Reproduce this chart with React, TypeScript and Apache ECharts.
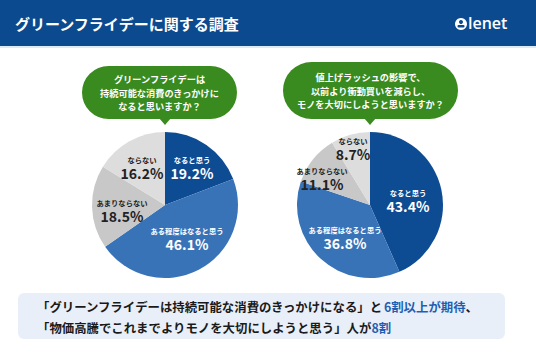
import React, { useEffect, useRef } from "react";
import * as echarts from "echarts";

const categories = ["なると思う", "ある程度はなると思う", "あまりならない", "ならない"];
const greenFridayValues = [19.2, 46.1, 18.5, 16.2];
const priceRiseValues = [43.4, 36.8, 11.1, 8.7];

const titleText = "グリーンフライデーに関する調査";
const question1 = "グリーンフライデーは\n持続可能な消費のきっかけに\nなると思いますか？";
const question2 = "値上げラッシュの影響で、\n以前より衝動買いを減らし、\nモノを大切にしようと思いますか？";

const FONT = "'Noto Sans CJK JP', 'Noto Sans', sans-serif";
const sliceColors = ["#0d4b93", "#3873b8", "#c8c8c8", "#dddddd"];
const labelColors = ["#ffffff", "#ffffff", "#222222", "#222222"];
const pieCenters = [165, 370];
const pieCY = 205;
const pieR = 73;
// label placement offsets from each pie's centre (style, not data)
const labelOffsets = [
  [[27, -38], [22, 33], [-43, 5], [-23, -38]],
  [[38, -5], [-25, 32], [-48, -27], [-17, -57]],
];

function makePie(values: number[], idx: number) {
  return {
    type: "pie",
    center: [pieCenters[idx], pieCY],
    radius: [0, pieR],
    startAngle: 90,
    clockwise: true,
    silent: true,
    avoidLabelOverlap: false,
    data: values.map((v, i) => ({
      name: categories[i],
      value: v,
      itemStyle: { color: sliceColors[i] },
      label: {
        rich: {
          n: { fontSize: 7.3, fontWeight: "bold", color: labelColors[i], fontFamily: FONT, lineHeight: 11, align: "center" },
          v: { fontSize: 14, fontWeight: "bold", color: labelColors[i], fontFamily: FONT, lineHeight: 15, align: "center" },
        },
      },
    })),
    label: {
      show: true,
      position: "inside",
      formatter: (p: any) => `{n|${p.name}}\n{v|${Number(p.value).toFixed(1)}%}`,
    },
    labelLine: { show: false },
    labelLayout: (params: any) => {
      const off = labelOffsets[idx][params.dataIndex];
      return {
        x: pieCenters[idx] + off[0],
        y: pieCY + off[1],
        align: "center",
        verticalAlign: "middle",
      };
    },
  };
}

function bubble(x: number, y: number, w: number, h: number, tipX: number, text: string) {
  return [
    {
      type: "rect",
      shape: { x, y, width: w, height: h, r: h / 2 },
      style: { fill: "#3a8b1f" },
    },
    {
      type: "polygon",
      shape: { points: [[tipX - 6, y + h - 1], [tipX + 6, y + h - 1], [tipX, y + h + 6]] },
      style: { fill: "#3a8b1f" },
    },
    {
      type: "text",
      x: x + w / 2,
      y: y + h / 2,
      style: {
        text,
        fill: "#ffffff",
        fontFamily: FONT,
        fontSize: 9.2,
        fontWeight: "bold",
        lineHeight: 13.5,
        textAlign: "center",
        textVerticalAlign: "middle",
      },
    },
  ];
}

export default function App() {
  const ref = useRef<HTMLDivElement>(null);
  useEffect(() => {
    document.body.style.margin = "0";
    if (!ref.current) return;
    const chart = echarts.init(ref.current, undefined, { renderer: "svg" });
    chart.setOption({
      animation: false,
      backgroundColor: "#ffffff",
      series: [makePie(greenFridayValues, 0), makePie(priceRiseValues, 1)],
      graphic: [
        { type: "rect", shape: { x: 0, y: 0, width: 536, height: 46 }, style: { fill: "#0c4a8f" } },
        { type: "rect", shape: { x: 0, y: 46, width: 536, height: 2 }, style: { fill: "#dce9f6" } },
        {
          type: "text",
          x: 15,
          y: 23,
          style: {
            text: titleText,
            fill: "#ffffff",
            fontFamily: FONT,
            fontSize: 15,
            fontWeight: "bold",
            textVerticalAlign: "middle",
          },
        },
        { type: "circle", shape: { cx: 461, cy: 24, r: 6 }, style: { fill: "#ffffff" } },
        { type: "circle", shape: { cx: 461, cy: 22, r: 2 }, style: { fill: "#0c4a8f" } },
        { type: "rect", shape: { x: 457.5, y: 25, width: 7, height: 2.5, r: 1 }, style: { fill: "#0c4a8f" } },
        {
          type: "text",
          x: 468,
          y: 23,
          style: {
            text: "lenet",
            fill: "#ffffff",
            fontFamily: "'Open Sans', sans-serif",
            fontSize: 16,
            fontWeight: 600,
            textVerticalAlign: "middle",
          },
        },
        ...bubble(82, 66, 155, 53, 165, question1),
        ...bubble(283, 62, 175, 57, 370, question2),
        {
          type: "rect",
          shape: { x: 18, y: 293, width: 487, height: 46, r: 6 },
          style: { fill: "#e9eff8" },
        },
        {
          type: "text",
          x: 37,
          y: 317,
          style: {
            text:
              "「グリーンフライデーは持続可能な消費のきっかけになる」と{h|6割以上が期待}、\n「物価高騰でこれまでよりモノを大切にしようと思う」人が{h|8割}",
            fill: "#1a1a1a",
            fontFamily: FONT,
            fontSize: 12.4,
            fontWeight: "bold",
            lineHeight: 21,
            textVerticalAlign: "middle",
            rich: {
              h: { fill: "#1f5fb2", fontFamily: FONT, fontSize: 12.4, fontWeight: "bold", lineHeight: 21 },
            },
          },
        },
      ],
    });
    return () => chart.dispose();
  }, []);
  return <div ref={ref} style={{ width: 536, height: 357 }} />;
}
